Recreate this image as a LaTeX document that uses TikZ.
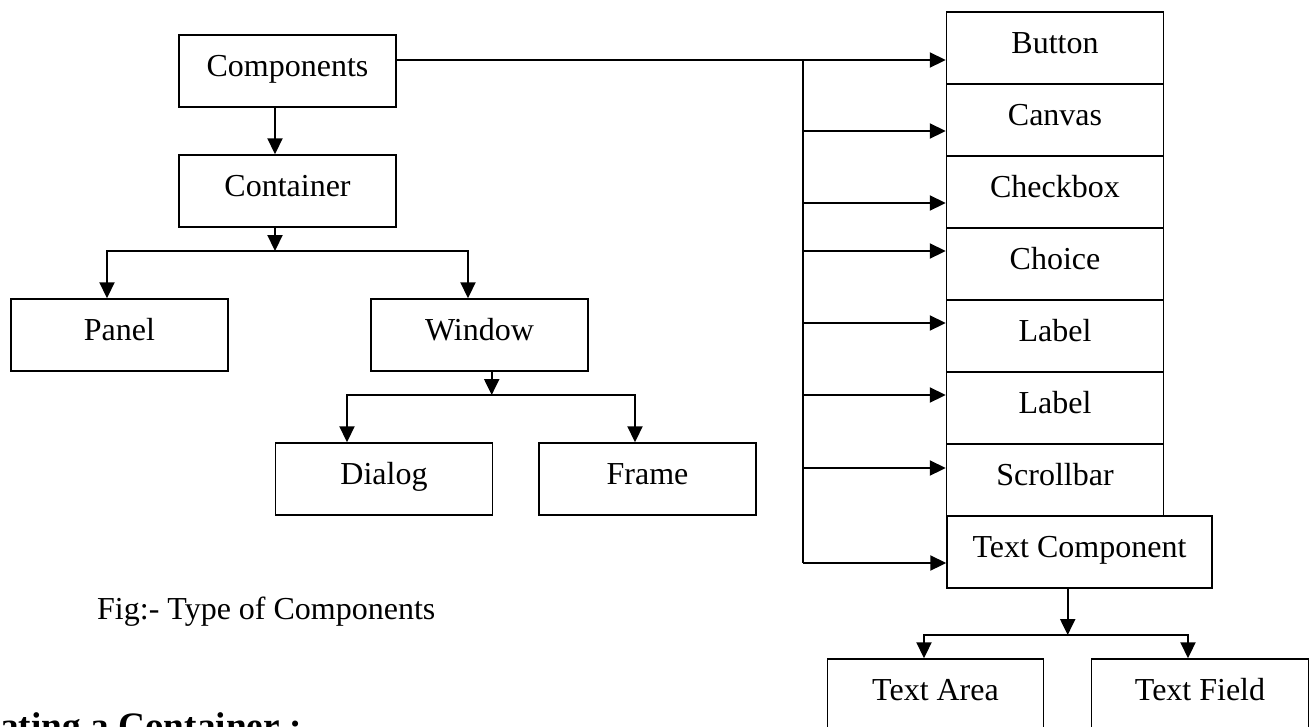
\documentclass[tikz,border=0pt]{standalone}
\usepackage{fontspec}
\setmainfont{Liberation Serif}
\usetikzlibrary{arrows.meta}
\begin{document}
\begin{tikzpicture}[x=1pt,y=-1pt,
  box/.style={draw, line width=1.5pt, minimum width=217pt, minimum height=72pt,
    inner sep=0pt, text height=20pt, text depth=10pt, font=\fontsize{32}{38}\selectfont},
  arr/.style={line width=2.2pt, -{Triangle[length=16pt,width=15pt]}},
  bus/.style={line width=1.7pt},
  txt/.style={inner sep=0pt, anchor=base west}]
\useasboundingbox (0,0) rectangle (1312,726);
\clip (0,0) rectangle (1312,726);

% left tree
\node[box] (comp)   at (287.5,71)  {Components};
\node[box] (cont)   at (287.5,191) {Container};
\node[box] (panel)  at (119.5,335) {Panel};
\node[box] (window) at (479.5,335) {Window};
\node[box] (dialog) at (384,479)   {Dialog};
\node[box] (frame)  at (647.5,479) {Frame};

% right stack
\node[box] (button) at (1055,48)  {Button};
\node[box] (canvas) at (1055,120) {Canvas};
\node[box] (check)  at (1055,192) {Checkbox};
\node[box] (choice) at (1055,264) {Choice};
\node[box] (label1) at (1055,336) {Label};
\node[box] (label2) at (1055,408) {Label};
\node[box] (scroll) at (1055,480) {Scrollbar};
\node[box, minimum width=265pt] (tcomp) at (1079.5,552) {Text Component};
\node[box, minimum width=216pt] (tarea)  at (935.5,695) {Text Area};
\node[box] (tfield) at (1200,695) {Text Field};

% texts
\node[txt, font=\fontsize{32}{38}\selectfont] (cap) at (97,619) {Fig:- Type of Components};
\node[txt, font=\fontsize{37.3}{44}\selectfont\bfseries] (head) at (0,738) {ating a Container :-};

% Components -> Container
\draw[arr] (comp.south -| 275,0) -- (cont.north -| 275,0);

% Container branch
\coordinate (j1) at (275,251);
\coordinate (pl) at (107,251);
\coordinate (pr) at (468,251);
\draw[arr] (cont.south -| j1) -- (j1);
\draw[arr] (j1) -| (pl |- panel.north);
\draw[arr] (j1) -| (pr |- window.north);

% Window branch
\coordinate (j2) at (491.7,395);
\coordinate (dl) at (347,395);
\coordinate (dr) at (635,395);
\draw[arr] (window.south -| j2) -- (j2);
\draw[arr] (j2) -| (dl |- dialog.north);
\draw[arr] (j2) -| (dr |- frame.north);

% bus to stack
\coordinate (b0) at (803,60);
\coordinate (b1) at (803,131);
\coordinate (b2) at (803,203);
\coordinate (b3) at (803,251);
\coordinate (b4) at (803,323);
\coordinate (b5) at (803,395);
\coordinate (b6) at (803,468);
\coordinate (b7) at (803,563);
\draw[arr] (comp.east |- b0) -- (b0 -| button.west);
\draw[bus] (b0) -- (b7);
\draw[arr] (b1) -- (b1 -| canvas.west);
\draw[arr] (b2) -- (b2 -| check.west);
\draw[arr] (b3) -- (b3 -| choice.west);
\draw[arr] (b4) -- (b4 -| label1.west);
\draw[arr] (b5) -- (b5 -| label2.west);
\draw[arr] (b6) -- (b6 -| scroll.west);
\draw[arr] (b7) -- (b7 -| tcomp.west);

% Text Component branch
\coordinate (j3) at (1067.7,635);
\coordinate (tl) at (924,635);
\coordinate (tr) at (1188,635);
\draw[arr] (tcomp.south -| j3) -- (j3);
\draw[arr] (j3) -| (tl |- tarea.north);
\draw[arr] (j3) -| (tr |- tfield.north);
\end{tikzpicture}
\end{document}
